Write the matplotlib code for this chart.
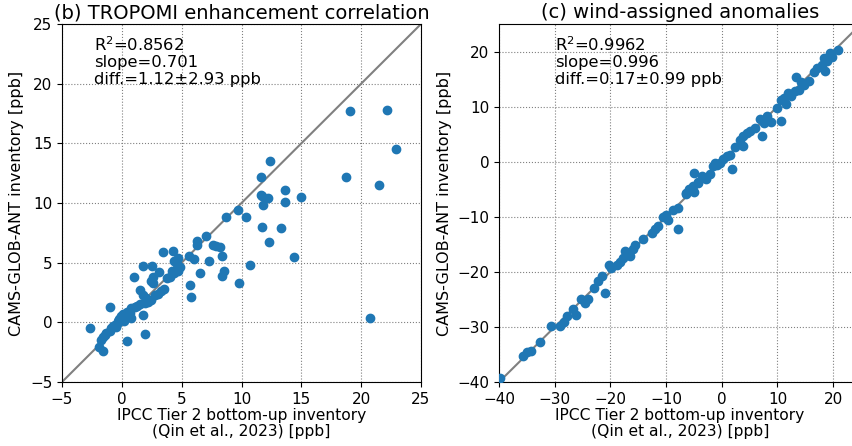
import numpy as np
import matplotlib
matplotlib.use("Agg")
import matplotlib.pyplot as plt

# (b) TROPOMI enhancement correlation
x_b = [19.1, 22.2, 22.9, 12.4, 11.6, 18.7, 21.5, 13.6, 11.6, 11.7, 12.2, 13.6, 15.0, 11.8,
       9.7, 8.7, 10.4, 11.7, 13.3, 12.3, 14.4, 8.2, 8.4, 8.5, 8.4, 10.7, 9.8, 20.7,
       7.0, 6.3, 6.3, 7.6, 7.9, 3.4, 4.3, 5.6, 6.0, 7.3, 4.7, 4.4, 4.6,
       1.8, 2.5, 3.1, 1.0, 6.5, 4.7, 4.4, 4.0, 3.8, 2.4, 2.6, 5.7, 5.8, 1.5, 3.3, 3.5,
       1.8, 2.4, 2.2, 1.9, 1.5, 1.1, 0.8, 0.4, 0.1, -0.1, 0.7, 0.8, -1.0, 1.8, -2.7,
       -0.4, -0.7, -1.0, -1.3, -1.6, -1.7, -1.4, -0.9, -0.3, -0.6, -0.2, 0.4, 1.9,
       -1.9, -1.6, 2.6, 2.0, 3.0, 4.2, 4.9, 0.2, -0.5, 1.3, 2.8]
y_b = [17.7, 17.8, 14.5, 13.5, 12.2, 12.2, 11.5, 11.1, 10.7, 10.6, 10.4, 10.1, 10.5, 9.8,
       9.4, 8.8, 8.8, 8.0, 7.9, 6.7, 5.5, 6.3, 5.6, 4.3, 3.9, 4.8, 3.3, 0.4,
       7.2, 6.8, 6.5, 6.5, 6.4, 5.9, 6.0, 5.6, 5.3, 5.1, 5.4, 5.1, 4.9,
       4.7, 4.7, 4.2, 3.8, 4.1, 4.3, 4.1, 3.8, 3.7, 3.5, 3.3, 3.1, 2.1, 2.7, 2.6, 2.8,
       2.3, 1.9, 1.7, 1.6, 1.5, 1.3, 1.2, 0.9, 0.7, 0.5, 0.8, 0.4, 1.3, 0.6, -0.5,
       -0.1, -0.3, -0.7, -0.9, -1.2, -1.5, -1.1, -0.5, 0.1, -0.2, 0.3, -1.6, -1.0,
       -2.1, -2.4, 3.8, 2.0, 2.4, 4.3, 4.6, 0.1, -0.4, 1.4, 2.3]

# (c) wind-assigned anomalies
x_c = [20.9, 19.5, 18.3, 19.8, 18.0, 18.6, 17.1, 18.9, 13.3, 15.6, 14.7, 13.8, 13.2, 11.9,
       11.1, 10.6, 11.5, 9.9, 10.6, 8.8, 7.5, 6.9, 7.2, 6.0, 5.1, 4.5, 3.9, 3.3, 3.9,
       1.5, 0.9, 0.3, -0.4, -1.3, -1.6, 1.9, -5.0, -3.5, -2.9, -4.3, -5.2, -5.8, -6.5,
       -4.9, -4.2, -6.5, -7.9, -7.9, -9.6, -10.1, -10.5, -11.4, -12.6, -12.0, -15.5,
       -15.9, -16.5, -17.3, -17.7, -18.9, -20.3, -19.8, -21.5, -22.2, -23.0, -21.0,
       -24.0, -24.6, -26.8, -26.1, -27.8, -28.4, -29.1, -30.6, -32.7, -34.2, -35.0,
       -35.7, -39.9, 16.5, 14.2, 12.4, 8.2, 2.4, -0.8, -2.2, -8.8, -14.2, -18.2, -25.3]
y_c = [20.2, 19.8, 18.9, 19.0, 17.6, 16.4, 17.0, 18.3, 15.4, 14.6, 14.0, 13.1, 12.8, 12.5,
       11.6, 11.2, 10.4, 9.8, 7.4, 7.2, 7.1, 7.7, 4.6, 6.2, 5.6, 5.3, 4.6, 4.0, 2.8,
       1.3, 1.0, 0.4, -0.2, -0.2, -0.8, -1.4, -2.0, -2.6, -3.1, -3.6, -4.5, -5.0, -5.6,
       -5.5, -3.8, -5.8, -8.4, -12.3, -10.5, -9.6, -10.0, -11.7, -12.9, -12.3, -15.1,
       -15.9, -17.1, -16.2, -17.4, -18.7, -18.7, -19.3, -20.8, -21.7, -22.9, -23.9,
       -25.0, -25.6, -26.7, -27.9, -28.0, -29.1, -29.8, -29.8, -32.8, -34.3, -34.6,
       -35.3, -39.3, 16.2, 14.4, 12.0, 8.3, 2.6, -0.6, -2.3, -8.7, -14.0, -18.3, -25.0]

stats_b = "R$^2$=0.8562\nslope=0.701\ndiff.=1.12±2.93 ppb"
stats_c = "R$^2$=0.9962\nslope=0.996\ndiff.=0.17±0.99 ppb"

xlabel = "IPCC Tier 2 bottom-up inventory\n(Qin et al., 2023) [ppb]"
ylabel = "CAMS-GLOB-ANT inventory [ppb]"

fig = plt.figure(figsize=(8.52, 4.46), dpi=100)
ax1 = fig.add_axes([62 / 852, 64 / 446, 359 / 852, 358 / 446])
ax2 = fig.add_axes([499 / 852, 64 / 446, 362 / 852, 358 / 446])

panels = [
    (ax1, x_b, y_b, (-5, 25), np.arange(-5, 26, 5), "(b) TROPOMI enhancement correlation", stats_b, 0.09),
    (ax2, x_c, y_c, (-40, 25), np.arange(-40, 21, 10), "(c) wind-assigned anomalies", stats_c, 0.155),
]

for ax, xs, ys, lim, ticks, title, stats, tx in panels:
    ax.set_axisbelow(True)
    ax.grid(True, ls=":", color="gray", lw=0.8)
    ax.plot(lim, lim, color="gray", lw=1.5, zorder=2)
    ax.scatter(xs, ys, s=36, color="#1f77b4", zorder=3)
    ax.set_xlim(lim)
    ax.set_ylim(lim)
    ax.set_xticks(ticks)
    ax.set_yticks(ticks)
    ax.tick_params(labelsize=11)
    ax.set_title(title, fontsize=14, pad=4)
    ax.set_xlabel(xlabel, fontsize=11.2, labelpad=1, linespacing=1.05)
    ax.set_ylabel(ylabel, fontsize=11.5)
    ax.text(tx, 0.968, stats, transform=ax.transAxes, va="top", ha="left",
            fontsize=11.8, linespacing=1.1)

fig.savefig("out.png", dpi=100)
